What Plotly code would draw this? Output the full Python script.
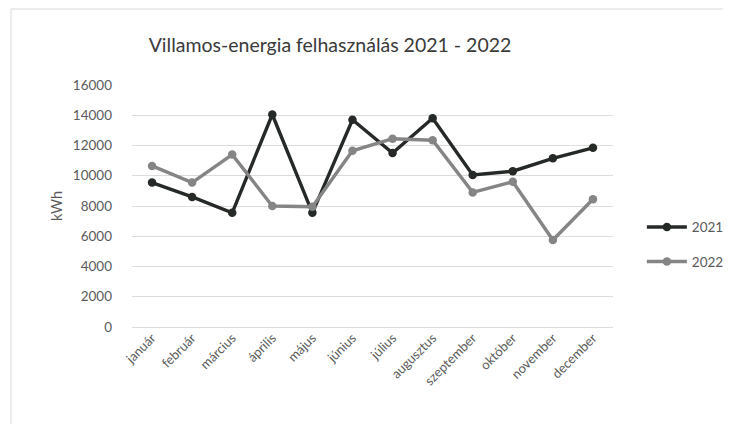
import plotly.graph_objects as go

months = ["január", "február", "március", "április", "május", "június",
          "július", "augusztus", "szeptember", "október", "november", "december"]
y2021 = [9550, 8600, 7550, 14050, 7550, 13700, 11500, 13800, 10050, 10300, 11150, 11850]
y2022 = [10650, 9550, 11400, 8000, 7950, 11650, 12450, 12350, 8900, 9600, 5750, 8450]
y_ticks = [0, 2000, 4000, 6000, 8000, 10000, 12000, 14000, 16000]
y_ticktext = [str(v) for v in y_ticks]

FONT = "Lato, 'Open Sans', sans-serif"
W, H = 740, 416
L, T, B = 124, 77, 97
PW = 481
R = W - L - PW
PH = H - T - B

fig = go.Figure()
fig.add_trace(go.Scatter(x=months, y=y2021, name="2021", mode="lines+markers",
                         legendgroup="a",
                         line=dict(color="#262a27", width=3.4),
                         marker=dict(color="#262a27", size=8.5)))
fig.add_trace(go.Scatter(x=months, y=y2022, name="2022", mode="lines+markers",
                         legendgroup="b",
                         line=dict(color="#858585", width=3.4),
                         marker=dict(color="#858585", size=8.5)))

fig.update_layout(
    width=W, height=H,
    margin=dict(l=L, r=R, t=T, b=B),
    paper_bgcolor="white", plot_bgcolor="white",
    title=dict(text="Villamos-energia felhasználás 2021 - 2022",
               x=(330 - 8) / W, xanchor="center", y=1 - 37 / H, yanchor="middle",
               font=dict(family=FONT, size=19.5, color="#3a3a3a")),
    font=dict(family=FONT, color="#5a5a5a", size=13),
    showlegend=True,
    legend=dict(x=1.06, y=0.34, xanchor="left", yanchor="middle",
                font=dict(size=13.5, color="#5a5a5a"), tracegroupgap=14,
                itemwidth=40, bgcolor="rgba(0,0,0,0)"),
    xaxis=dict(showgrid=False, showline=False, ticks="", tickangle=-45,
               tickfont=dict(size=13, color="#5a5a5a"), range=[-0.5, 11.5]),
    yaxis=dict(range=[0, 16000], tickvals=y_ticks, ticktext=y_ticktext,
               showgrid=True, gridcolor="#dcdcdc", gridwidth=1, zeroline=True,
               zerolinecolor="#dcdcdc", zerolinewidth=1, showline=False,
               ticks="", ticklabelstandoff=19,
               tickfont=dict(size=13.5, color="#5a5a5a"),
               title=dict(text="kWh", standoff=6,
                          font=dict(size=14.5, color="#5a5a5a"))),
    shapes=[
        dict(type="line", xref="paper", yref="paper",
             x0=(3 - L) / PW, x1=(W - L) / PW,
             y0=(H - B - 1) / PH, y1=(H - B - 1) / PH,
             line=dict(color="#dadada", width=1)),
        dict(type="line", xref="paper", yref="paper",
             x0=(3 - L) / PW, x1=(3 - L) / PW,
             y0=-B / PH, y1=(H - B - 1) / PH,
             line=dict(color="#dadada", width=1)),
    ],
)

fig.write_html("out.html")
